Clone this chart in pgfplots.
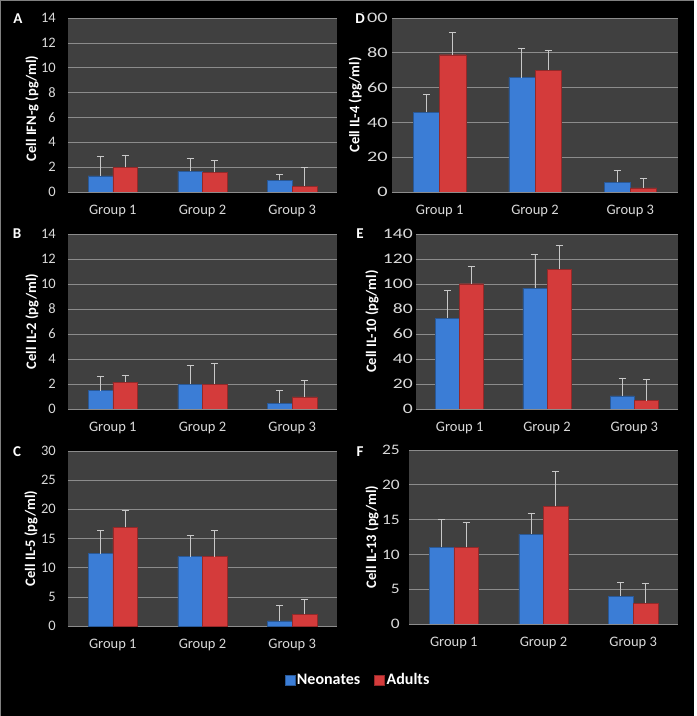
\documentclass[border=0pt]{standalone}
\usepackage{pgfplots}
\pgfplotsset{compat=1.18}
\usepackage{fontspec}
\setmainfont{Carlito}

\definecolor{plotbg}{HTML}{404040}
\definecolor{gridc}{HTML}{8C8C8C}
\definecolor{tickc}{HTML}{D9D9D9}
\definecolor{barblue}{HTML}{3B7DD6}
\definecolor{barred}{HTML}{D43B3B}
\definecolor{errc}{HTML}{C8C8C8}

\pgfplotsset{
  panel/.style={
    scale only axis,
    anchor=south west,
    ybar, bar width=0.275,
    xmin=-0.5, xmax=2.5, ymin=0,
    xtick={0,1,2}, xticklabels={Group 1,Group 2,Group 3},
    axis background/.style={fill=plotbg},
    axis line style={draw=none},
    major tick length=0pt,
    ymajorgrids, grid style={gridc, line width=0.6pt},
    tick label style={text=tickc, font=\fontsize{14.5}{16}\selectfont},
    xticklabel style={anchor=center, yshift=-19pt, inner sep=0pt},
    yticklabel style={anchor=east, inner sep=0pt},
    ylabel style={anchor=center, text=white, font=\bfseries\fontsize{14.5}{16}\selectfont},
    /pgf/number format/assume math mode=true,
    error bars/y dir=plus, error bars/y explicit,
    error bars/error mark=-,
    error bars/error bar style={errc, line width=0.8pt},
    error bars/error mark options={errc, line width=0.8pt, mark size=3.5pt, rotate=90},
  },
  neo/.style={fill=barblue, draw=barblue!70!black, line width=0.4pt, bar shift=-0.1375},
  adu/.style={fill=barred, draw=barred!70!black, line width=0.4pt, bar shift=0.1375},
}

\begin{document}
\begin{tikzpicture}
\fill[white] (0,0) rectangle (697pt,716pt);
\fill[black] (0,0) rectangle (694pt,716pt);
\draw[gray, line width=1pt] (0.5pt,0) -- (0.5pt,715.5pt) -- (694pt,715.5pt);

% A
\begin{axis}[panel, at={(68pt,524pt)}, width=269pt, height=174pt,
  ymax=14, ytick={0,2,...,14}, yticklabel style={xshift=-12pt},
  ylabel={Cell IFN-g (pg/ml)}, ylabel style={at={(axis description cs:-0.134,0.48)}}]
\addplot[neo] coordinates {(0,1.3) +- (0,1.57) (1,1.66) +- (0,1.05) (2,0.94) +- (0,0.51)};
\addplot[adu] coordinates {(0,1.98) +- (0,1.0) (1,1.58) +- (0,0.97) (2,0.48) +- (0,1.5)};
\end{axis}

% D
\begin{axis}[panel, at={(392pt,524pt)}, width=286pt, height=174pt,
  ymax=100, ytick={0,20,...,100}, yticklabel style={xshift=-4pt, xscale=1.4},
  ylabel={Cell IL-4 (pg/ml)}, ylabel style={at={(axis description cs:-0.129,0.5)}}]
\addplot[neo] coordinates {(0,45.9) +- (0,10.1) (1,65.8) +- (0,16.5) (2,5.6) +- (0,6.9)};
\addplot[adu] coordinates {(0,78.9) +- (0,13.0) (1,70.0) +- (0,11.4) (2,2.3) +- (0,5.6)};
\end{axis}

% B
\begin{axis}[panel, at={(68pt,307pt)}, width=269pt, height=175pt,
  ymax=14, ytick={0,2,...,14}, yticklabel style={xshift=-12pt},
  ylabel={Cell IL-2 (pg/ml)}, ylabel style={at={(axis description cs:-0.134,0.5)}}]
\addplot[neo] coordinates {(0,1.47) +- (0,1.12) (1,1.98) +- (0,1.52) (2,0.45) +- (0,1.02)};
\addplot[adu] coordinates {(0,2.14) +- (0,0.53) (1,1.98) +- (0,1.63) (2,0.96) +- (0,1.31)};
\end{axis}

% E
\begin{axis}[panel, at={(416pt,307pt)}, width=262pt, height=175pt,
  ymax=140, ytick={0,20,...,140}, yticklabel style={xshift=-3pt, xscale=1.35},
  ylabel={Cell IL-10 (pg/ml)}, ylabel style={at={(axis description cs:-0.168,0.5)}}]
\addplot[neo] coordinates {(0,72.7) +- (0,22.1) (1,96.7) +- (0,27.0) (2,10.4) +- (0,14.4)};
\addplot[adu] coordinates {(0,100.2) +- (0,13.9) (1,111.7) +- (0,19.2) (2,6.7) +- (0,17.1)};
\end{axis}

% C
\begin{axis}[panel, at={(68pt,90pt)}, width=269pt, height=175pt,
  ymax=30, ytick={0,5,...,30}, yticklabel style={xshift=-12pt},
  ylabel={Cell IL-5 (pg/ml)}, ylabel style={at={(axis description cs:-0.138,0.5)}},
  legend style={at={(1.078,-0.309)}, anchor=center, draw=none, fill=none,
    text=white, font=\bfseries\fontsize{16}{18}\selectfont, inner sep=0pt,
    legend columns=2, /tikz/every even column/.append style={column sep=12pt}},
  legend image code/.code={\fill[#1] (0pt,-5pt) rectangle (10pt,5pt);}]
\addplot[neo] coordinates {(0,12.4) +- (0,4.0) (1,11.9) +- (0,3.6) (2,0.9) +- (0,2.6)};
\addplot[adu] coordinates {(0,16.9) +- (0,3.0) (1,11.9) +- (0,4.5) (2,2.0) +- (0,2.5)};
\legend{Neonates, Adults}
\end{axis}

% F
\begin{axis}[panel, at={(409pt,92pt)}, width=269pt, height=174pt,
  ymax=25, ytick={0,5,...,25}, yticklabel style={xshift=-9pt, xscale=1.2},
  ylabel={Cell IL-13 (pg/ml)}, ylabel style={at={(axis description cs:-0.138,0.5)}}]
\addplot[neo] coordinates {(0,11.0) +- (0,4.0) (1,12.9) +- (0,3.05) (2,4.0) +- (0,2.0)};
\addplot[adu] coordinates {(0,11.0) +- (0,3.65) (1,16.9) +- (0,5.0) (2,3.0) +- (0,2.9)};
\end{axis}

\begin{scope}[every node/.style={text=white, font=\bfseries\fontsize{15}{17}\selectfont}]
\node at (18pt,697pt) {A};
\node[fill=black, inner sep=1.5pt] at (360pt,697pt) {D};
\node at (17pt,482pt) {B};
\node at (360pt,482pt) {E};
\node at (17pt,264pt) {C};
\node at (360pt,264pt) {F};
\end{scope}

\pgfresetboundingbox
\path[use as bounding box] (0,0) rectangle (697pt,716pt);
\end{tikzpicture}
\end{document}
